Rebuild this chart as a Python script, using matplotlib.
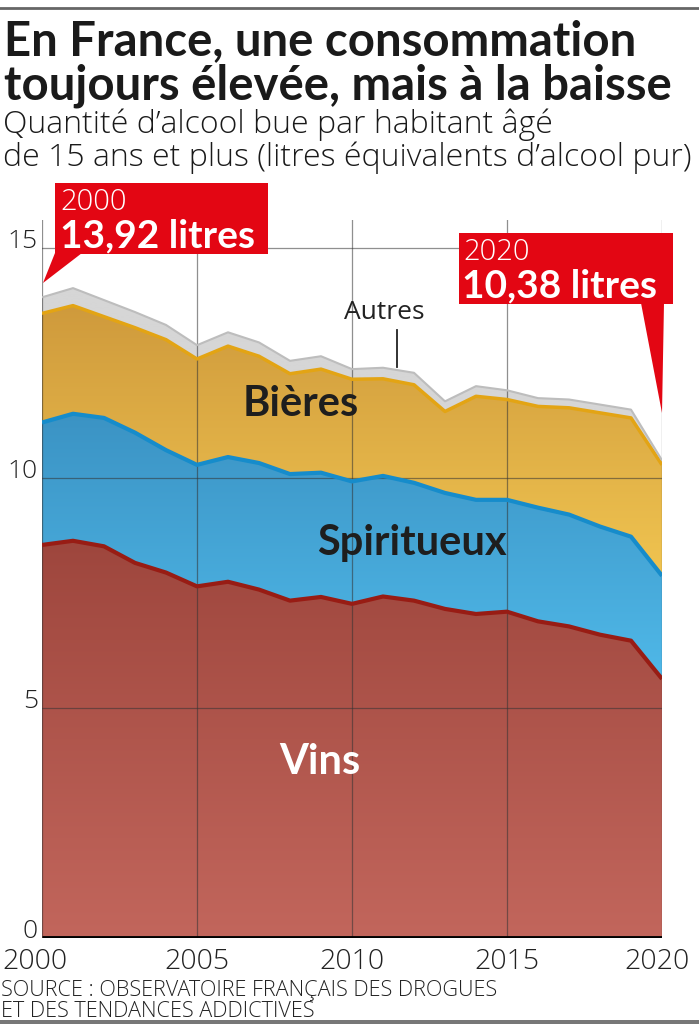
import numpy as np
import matplotlib.pyplot as plt
from matplotlib.patches import Polygon, Rectangle
from matplotlib.path import Path
from matplotlib.colors import LinearSegmentedColormap

# litres d'alcool pur par habitant de 15 ans et plus
years = list(range(2000, 2021))
vins = [8.54, 8.63, 8.51, 8.15, 7.94, 7.64, 7.74, 7.57, 7.33, 7.41, 7.26,
        7.42, 7.33, 7.15, 7.04, 7.09, 6.88, 6.77, 6.59, 6.46, 5.63]
spiritueux = [2.66, 2.76, 2.79, 2.83, 2.66, 2.64, 2.71, 2.75, 2.75, 2.70, 2.66,
              2.62, 2.56, 2.52, 2.48, 2.43, 2.47, 2.43, 2.35, 2.26, 2.24]
bieres = [2.37, 2.35, 2.20, 2.28, 2.40, 2.30, 2.41, 2.32, 2.18, 2.25, 2.22,
          2.11, 2.13, 1.77, 2.25, 2.18, 2.20, 2.32, 2.47, 2.58, 2.41]
autres = [0.35, 0.38, 0.36, 0.34, 0.32, 0.30, 0.30, 0.30, 0.28, 0.28, 0.22,
          0.24, 0.26, 0.22, 0.22, 0.20, 0.18, 0.18, 0.18, 0.18, 0.10]
yticks = [0, 5, 10, 15]
xticks = [2000, 2005, 2010, 2015, 2020]

BOLD = 'Lato'
LIGHT = 'Open Sans'
W, H = 699, 1024
fig = plt.figure(figsize=(W / 100, H / 100), dpi=100)

def fx(px):
    return px / W

def fy(py):
    return 1 - py / H

ax = fig.add_axes([fx(42), fy(938), fx(662) - fx(42), fy(220) - fy(938)])
x = np.array(years)
s1 = np.array(vins)
s2 = s1 + np.array(spiritueux)
s3 = s2 + np.array(bieres)
s4 = s3 + np.array(autres)

layers = [
    (np.zeros_like(s1), s1, '#9e463d', '#c2665c', '#981c14', 3.0),
    (s1, s2, '#3b93c4', '#4fb8e8', '#168ccb', 3.0),
    (s2, s3, '#cf9a3c', '#f0c450', '#e3a414', 2.5),
    (s3, s4, '#d6d6d6', '#d6d6d6', '#bdbdbd', 1.5),
]
for lo, hi, ctop, cbot, lc, lw in layers:
    poly = ax.fill_between(x, lo, hi, facecolor='none', edgecolor='none')
    cmap = LinearSegmentedColormap.from_list('g', [cbot, ctop])
    grad = np.linspace(0, 1, 256).reshape(-1, 1)
    im = ax.imshow(grad, cmap=cmap, origin='lower', aspect='auto',
                   extent=[x[0], x[-1], lo.min(), hi.max()], zorder=1)
    im.set_clip_path(Path(poly.get_paths()[0].vertices), ax.transData)
    ax.plot(x, hi, color=lc, lw=lw, zorder=4, solid_capstyle='butt')

ax.set_xlim(2000, 2020)
ax.set_ylim(0, 15.6)

# grille
for xt in xticks:
    ax.plot([xt, xt], [0, 15.6], color='#333333', lw=0.9, alpha=0.55, zorder=3)
for yt in yticks[1:]:
    ax.plot([2000, 2020], [yt, yt], color='#333333', lw=0.9, alpha=0.55, zorder=3)
ax.plot([2000, 2020], [0, 0], color='black', lw=3.5, zorder=5, solid_capstyle='butt')

for sp in ax.spines.values():
    sp.set_visible(False)
ax.set_xticks([])
ax.set_yticks([])

for yt in yticks:
    ax.text(1999.87, yt, str(yt), ha='right', va='baseline', fontsize=19,
            family=LIGHT, fontweight='light', color='#222222')
for i, xt in enumerate(xticks):
    ha = 'center'
    xpos = xt
    if i == 0:
        ha, xpos = 'left', 2000 - 40 / 31
    elif i == len(xticks) - 1:
        ha, xpos = 'right', 2020 + 28 / 31
    ax.text(xpos, -0.67, str(xt), ha=ha, va='baseline', fontsize=20.5,
            family=LIGHT, fontweight='light', color='#222222')

# étiquettes des séries
ax.text(2008.35, 11.6, 'Bières', ha='center', va='center', fontsize=30,
        family=BOLD, fontweight='bold', color='#1e1e1e', zorder=6)
ax.text(2011.94, 8.59, 'Spiritueux', ha='center', va='center', fontsize=30,
        family=BOLD, fontweight='bold', color='#1e1e1e', zorder=6)
ax.text(2008.97, 3.83, 'Vins', ha='center', va='center', fontsize=30,
        family=BOLD, fontweight='bold', color='white', zorder=6)
ax.text(2011.03, 13.6, 'Autres', ha='center', va='center', fontsize=19,
        family=LIGHT, color='#222222', zorder=6)
ax.plot([2011.45, 2011.45], [13.22, s4[11] + 0.02], color='#222222', lw=1.3, zorder=6)

# encadrés rouges
RED = '#e30613'
fig.patches.append(Rectangle((fx(55), fy(254)), fx(268) - fx(55), fy(183) - fy(254),
                             transform=fig.transFigure, facecolor=RED, edgecolor='none', zorder=10))
fig.patches.append(Polygon([(fx(55), fy(253)), (fx(82), fy(253)), (fx(43), fy(283))],
                           transform=fig.transFigure, facecolor=RED, edgecolor='none', zorder=10))
fig.patches.append(Rectangle((fx(459), fy(304)), fx(673) - fx(459), fy(233) - fy(304),
                             transform=fig.transFigure, facecolor=RED, edgecolor='none', zorder=10))
fig.patches.append(Polygon([(fx(641), fy(303)), (fx(664), fy(303)), (fx(662), fy(413))],
                           transform=fig.transFigure, facecolor=RED, edgecolor='none', zorder=10))

fig.text(fx(60), fy(210), '2000', fontsize=21, family=LIGHT, fontweight='light',
         color='white', zorder=11)
fig.text(fx(60), fy(247), '13,92 litres', fontsize=28, family=BOLD, fontweight='bold',
         color='white', zorder=11)
fig.text(fx(463), fy(260), '2020', fontsize=21, family=LIGHT, fontweight='light',
         color='white', zorder=11)
fig.text(fx(462), fy(297), '10,38 litres', fontsize=28, family=BOLD, fontweight='bold',
         color='white', zorder=11)

# titres
fig.text(fx(4), fy(55), 'En France, une consommation', fontsize=34, family=BOLD,
         fontweight='bold', color='#1a1a1a')
fig.text(fx(4), fy(99), 'toujours élevée, mais à la baisse', fontsize=34, family=BOLD,
         fontweight='bold', color='#1a1a1a')
fig.text(fx(3), fy(133), 'Quantité d’alcool bue par habitant âgé', fontsize=23,
         family=LIGHT, fontweight='light', color='#1a1a1a')
fig.text(fx(3), fy(166), 'de 15 ans et plus (litres équivalents d’alcool pur)', fontsize=23,
         family=LIGHT, fontweight='light', color='#1a1a1a')

fig.text(fx(1), fy(996), 'SOURCE : OBSERVATOIRE FRANÇAIS DES DROGUES', fontsize=15.6,
         family=LIGHT, fontweight='light', color='#222222')
fig.text(fx(1), fy(1017), 'ET DES TENDANCES ADDICTIVES', fontsize=15.6,
         family=LIGHT, fontweight='light', color='#222222')

fig.add_artist(plt.Line2D([0, 1], [fy(8), fy(8)], color='#666666', lw=2))
fig.patches.append(Rectangle((0, 0), 1, fy(1020), transform=fig.transFigure,
                             facecolor='#777777', edgecolor='none'))

fig.savefig('out.png', dpi=100)
